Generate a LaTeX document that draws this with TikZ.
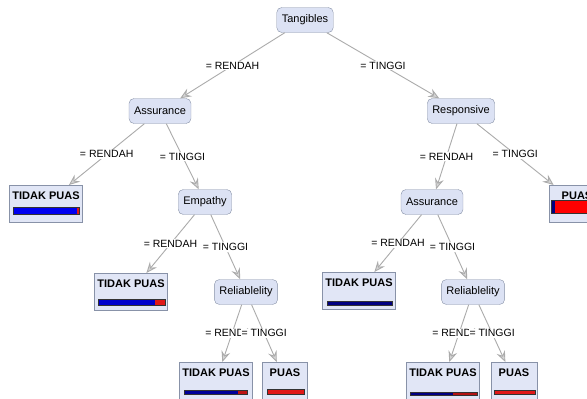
\documentclass[tikz,border=0pt]{standalone}
\usepackage{fontspec}
\setmainfont{Liberation Sans}
\usetikzlibrary{arrows.meta}
\definecolor{nodefill}{HTML}{DCE2F4}
\definecolor{nodeline}{HTML}{8892A8}
\definecolor{edgegray}{HTML}{ABABAB}
\definecolor{barblue}{HTML}{0000F0}
\definecolor{barnavy}{HTML}{000080}
\definecolor{barred}{HTML}{E01818}

\begin{document}
\begin{tikzpicture}[x=1pt,y=-1pt,
  split/.style={draw=nodeline,fill=nodefill,rounded corners=5pt,minimum height=25pt,inner xsep=5pt,font=\fontsize{11}{13}\selectfont},
  leaf/.style={draw=nodeline,fill=nodefill!85!white,anchor=north,inner xsep=3pt,inner ysep=3pt,text height=11pt,text depth=20pt,font=\fontsize{11}{13}\selectfont\bfseries},
  lbl/.style={fill=white,inner sep=1pt,font=\fontsize{10.5}{12}\selectfont},
  conn/.style={draw=edgegray,line width=0.9pt,-{Stealth[length=11pt,width=9pt,inset=4pt,fill=edgegray!50,color=edgegray]}},
  bar/.style={draw=black!80,line width=0.5pt}]
  \clip (0,0) rectangle (587,399);
  \fill[white] (0,0) rectangle (587,399);

  % splits
  \node[split] (tang) at (305,20) {Tangibles};
  \node[split] (assL) at (160,111) {Assurance};
  \node[split] (resp) at (461,111) {Responsive};
  \node[split] (emp) at (205,202) {Empathy};
  \node[split] (assR) at (432,202) {Assurance};
  \node[split] (relL) at (246,292) {Reliablelity};
  \node[split] (relR) at (473,292) {Reliablelity};

  % leaves
  \node[leaf,minimum width=72pt] (tp1) at (46,185) {TIDAK PUAS};
  \node[leaf,minimum width=56pt] (p1) at (577,185) {PUAS};
  \node[leaf,minimum width=72pt] (tp2) at (131,273) {TIDAK PUAS};
  \node[leaf,minimum width=72pt] (tp3) at (359,272) {TIDAK PUAS};
  \node[leaf,minimum width=68pt] (tp4) at (216,362) {TIDAK PUAS};
  \node[leaf,minimum width=45pt] (p2) at (285,362) {PUAS};
  \node[leaf,minimum width=70pt] (tp5) at (443,362) {TIDAK PUAS};
  \node[leaf,minimum width=46pt] (p3) at (514,362) {PUAS};

  % class bars
  \fill[barblue] (13,207) rectangle (77,214);
  \fill[barred] (77,207) rectangle (79,214);
  \draw[bar] (13,207) rectangle (79,214);
  \fill[barnavy] (551,200) rectangle (555,213);
  \fill[red] (555,200) rectangle (603,213);
  \draw[bar] (551,200) rectangle (603,213);
  \fill[blue!80!black] (98,299) rectangle (155,305);
  \fill[barred] (155,299) rectangle (165,305);
  \draw[bar] (98,299) rectangle (165,305);
  \fill[barnavy] (327,301) rectangle (392,305);
  \draw[bar] (327,301) rectangle (392,305);
  \fill[blue!60!black] (184,390) rectangle (238,394);
  \fill[barred!85!black] (238,390) rectangle (247,394);
  \draw[bar] (184,390) rectangle (247,394);
  \fill[barred] (267,389) rectangle (304,394);
  \draw[bar] (267,389) rectangle (304,394);
  \fill[barnavy] (410,392) rectangle (453,395);
  \fill[barred!80!black] (453,392) rectangle (477,395);
  \draw[bar] (410,392) rectangle (477,395);
  \fill[barred] (494,390) rectangle (535,394);
  \draw[bar] (494,390) rectangle (535,394);

  % edges
  \path[conn] (tang) -- (assL) node[lbl,midway] {= RENDAH};
  \path[conn] (tang) -- (resp) node[lbl,midway] {= TINGGI};
  \path[conn] (assL) -- (tp1) node[lbl,midway] {= RENDAH};
  \path[conn] (assL) -- (emp) node[lbl,midway] {= TINGGI};
  \path[conn] (emp) -- (tp2) node[lbl,midway] {= RENDAH};
  \path[conn] (emp) -- (relL) node[lbl,midway] {= TINGGI};
  \path[conn] (relL) -- (tp4) node[lbl,midway] {= RENDAH};
  \path[conn] (relL) -- (p2) node[lbl,midway] {= TINGGI};
  \path[conn] (resp) -- (assR) node[lbl,midway] {= RENDAH};
  \path[conn] (resp) -- (p1) node[lbl,midway] {= TINGGI};
  \path[conn] (assR) -- (tp3) node[lbl,midway] {= RENDAH};
  \path[conn] (assR) -- (relR) node[lbl,midway] {= TINGGI};
  \path[conn] (relR) -- (tp5) node[lbl,midway] {= RENDAH};
  \path[conn] (relR) -- (p3) node[lbl,midway] {= TINGGI};
\end{tikzpicture}
\end{document}
